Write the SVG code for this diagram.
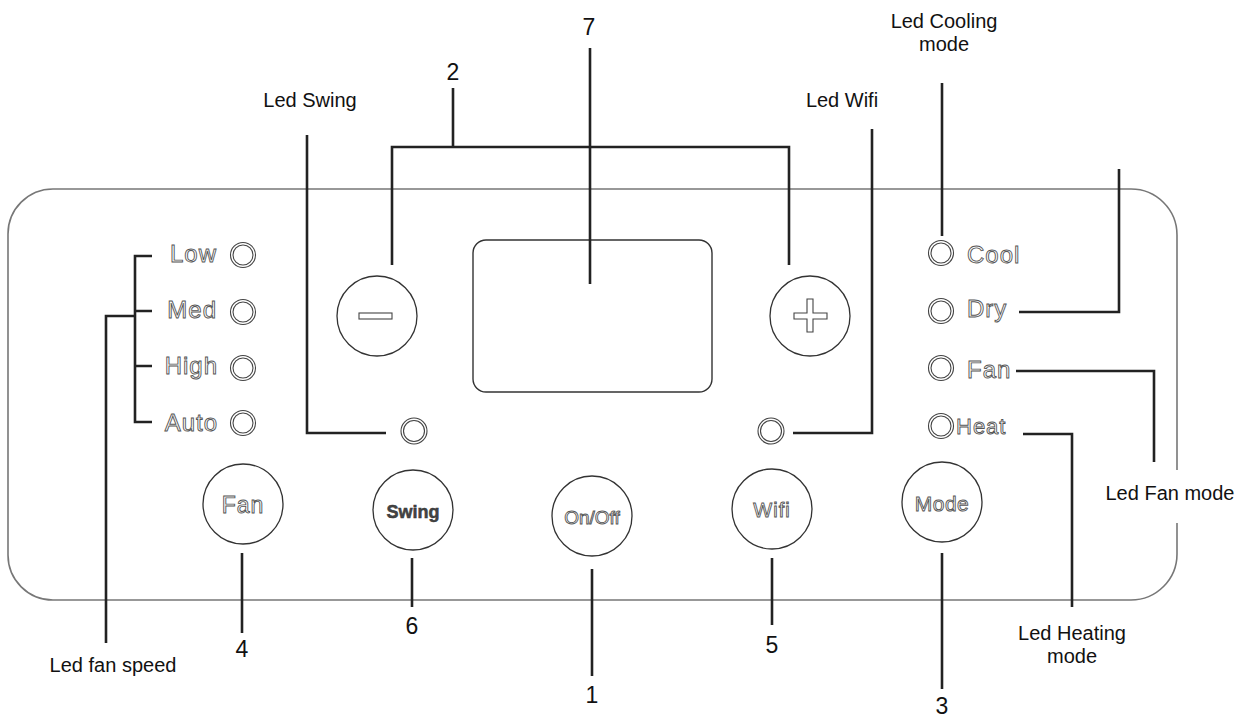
<svg xmlns="http://www.w3.org/2000/svg" width="1250" height="718" viewBox="0 0 1250 718">
<style>
  .panel{fill:none;stroke:#777;stroke-width:1.6}
  .btn{fill:#fff;stroke:#333;stroke-width:1.3}
  .led{fill:none;stroke:#444;stroke-width:1.1}
  .conn{fill:none;stroke:#222;stroke-width:2.6}
  .lbl{font-family:"Liberation Sans",Arial,sans-serif;font-size:20px;fill:#111}
  .num{font-family:"Liberation Sans",Arial,sans-serif;font-size:23px;fill:#111;text-anchor:middle}
  .ol{font-family:"Liberation Sans",Arial,sans-serif;font-size:24px;fill:#fff;stroke:#555;stroke-width:0.9;letter-spacing:1px}
  .bt{font-family:"Liberation Sans",Arial,sans-serif;fill:#fff;stroke:#555;stroke-width:0.9;text-anchor:middle}
</style>
<rect width="1250" height="718" fill="#fff"/>
<g id="panel">
  <path class="panel" d="M53,189 H1131 A46,46 0 0 1 1177,235 V470 M1177,523 V554 A46,46 0 0 1 1131,600 H53 A45,45 0 0 1 8,555 V234 A45,45 0 0 1 53,189"/>
  <rect class="panel" x="473" y="240" width="239" height="152" rx="13" style="stroke:#333;stroke-width:1.4"/>
</g>
<g id="connectors">
  <path class="conn" d="M152,256 H135 V422 H152 M135,311 H152 M135,366 H152 M135,316 H106 V643"/>
  <path class="conn" d="M453,88 V147 M392,265 V147 H789 V265"/>
  <path class="conn" d="M590,48 V284"/>
  <path class="conn" d="M307,135 V433 H386"/>
  <path class="conn" d="M872,129 V433 H793"/>
  <path class="conn" d="M942,83 V236"/>
  <path class="conn" d="M1019,312 H1119 V169"/>
  <path class="conn" d="M1016,371 H1154 V462"/>
  <path class="conn" d="M1023,434 H1072 V607"/>
  <path class="conn" d="M242,553 V633"/>
  <path class="conn" d="M412,558 V607"/>
  <path class="conn" d="M592,569 V676"/>
  <path class="conn" d="M772,558 V625"/>
  <path class="conn" d="M942,553 V689"/>
</g>
<g id="fan-speed-leds">
  <text class="ol" x="217" y="262" text-anchor="end">Low</text>
  <text class="ol" x="217" y="318" text-anchor="end">Med</text>
  <text class="ol" x="218" y="374" text-anchor="end">High</text>
  <text class="ol" x="218" y="431" text-anchor="end">Auto</text>
  <circle class="led" cx="243" cy="255" r="12.5"/><circle class="led" cx="243" cy="255" r="10"/>
  <circle class="led" cx="243" cy="312" r="12.5"/><circle class="led" cx="243" cy="312" r="10"/>
  <circle class="led" cx="243" cy="368" r="12.5"/><circle class="led" cx="243" cy="368" r="10"/>
  <circle class="led" cx="243" cy="423" r="12.5"/><circle class="led" cx="243" cy="423" r="10"/>
</g>
<g id="mode-leds">
  <circle class="led" cx="941" cy="253" r="12.5"/><circle class="led" cx="941" cy="253" r="10"/>
  <circle class="led" cx="941" cy="311" r="12.5"/><circle class="led" cx="941" cy="311" r="10"/>
  <circle class="led" cx="941" cy="368" r="12.5"/><circle class="led" cx="941" cy="368" r="10"/>
  <circle class="led" cx="941" cy="426" r="12.5"/><circle class="led" cx="941" cy="426" r="10"/>
  <text class="ol" x="967" y="263">Cool</text>
  <text class="ol" x="967" y="317">Dry</text>
  <text class="ol" x="967" y="378">Fan</text>
  <text class="ol" x="956" y="434" style="font-size:22px">Heat</text>
</g>
<g id="led-swing">
  <circle class="led" cx="414" cy="431" r="13"/><circle class="led" cx="414" cy="431" r="10.5"/>
</g>
<g id="led-wifi">
  <circle class="led" cx="771" cy="431" r="13"/><circle class="led" cx="771" cy="431" r="10.5"/>
</g>
<g id="btn-minus">
  <circle class="btn" cx="377" cy="316" r="40"/>
  <rect x="359" y="313" width="33" height="6" fill="#fff" stroke="#444" stroke-width="1.1"/>
</g>
<g id="btn-plus">
  <circle class="btn" cx="810" cy="316" r="40"/>
  <path d="M807,299 H813 V313 H827 V319 H813 V332 H807 V319 H794 V313 H807 Z" fill="#fff" stroke="#444" stroke-width="1.1"/>
</g>
<g id="btn-fan">
  <circle class="btn" cx="243" cy="504" r="40"/>
  <text class="bt" x="243" y="513" style="font-size:23px;letter-spacing:1px">Fan</text>
</g>
<g id="btn-swing">
  <circle class="btn" cx="413" cy="510" r="40"/>
  <text class="bt" x="413" y="518" style="font-size:18px;font-weight:bold;fill:#444;stroke:#333;stroke-width:0.5">Swing</text>
</g>
<g id="btn-onoff">
  <circle class="btn" cx="592" cy="516" r="40"/>
  <text class="bt" x="592" y="524" style="font-size:19px">On/Off</text>
</g>
<g id="btn-wifi">
  <circle class="btn" cx="772" cy="509" r="40"/>
  <text class="bt" x="772" y="517" style="font-size:20px;letter-spacing:1px">Wifi</text>
</g>
<g id="btn-mode">
  <circle class="btn" cx="942" cy="502" r="40"/>
  <text class="bt" x="942" y="511" style="font-size:21px;letter-spacing:0.5px">Mode</text>
</g>
<g id="labels">
  <text class="lbl" x="310" y="107" text-anchor="middle">Led Swing</text>
  <text class="lbl" x="842" y="107" text-anchor="middle">Led Wifi</text>
  <text class="lbl" x="944" y="28" text-anchor="middle">Led Cooling</text>
  <text class="lbl" x="944" y="51" text-anchor="middle">mode</text>
  <text class="lbl" x="1170" y="500" text-anchor="middle">Led Fan mode</text>
  <text class="lbl" x="1072" y="640" text-anchor="middle">Led Heating</text>
  <text class="lbl" x="1072" y="663" text-anchor="middle">mode</text>
  <text class="lbl" x="113" y="672" text-anchor="middle">Led fan speed</text>
  <text class="num" x="589" y="35">7</text>
  <text class="num" x="453" y="80">2</text>
  <text class="num" x="242" y="657">4</text>
  <text class="num" x="412" y="634">6</text>
  <text class="num" x="592" y="703">1</text>
  <text class="num" x="772" y="653">5</text>
  <text class="num" x="942" y="714">3</text>
</g>
</svg>
